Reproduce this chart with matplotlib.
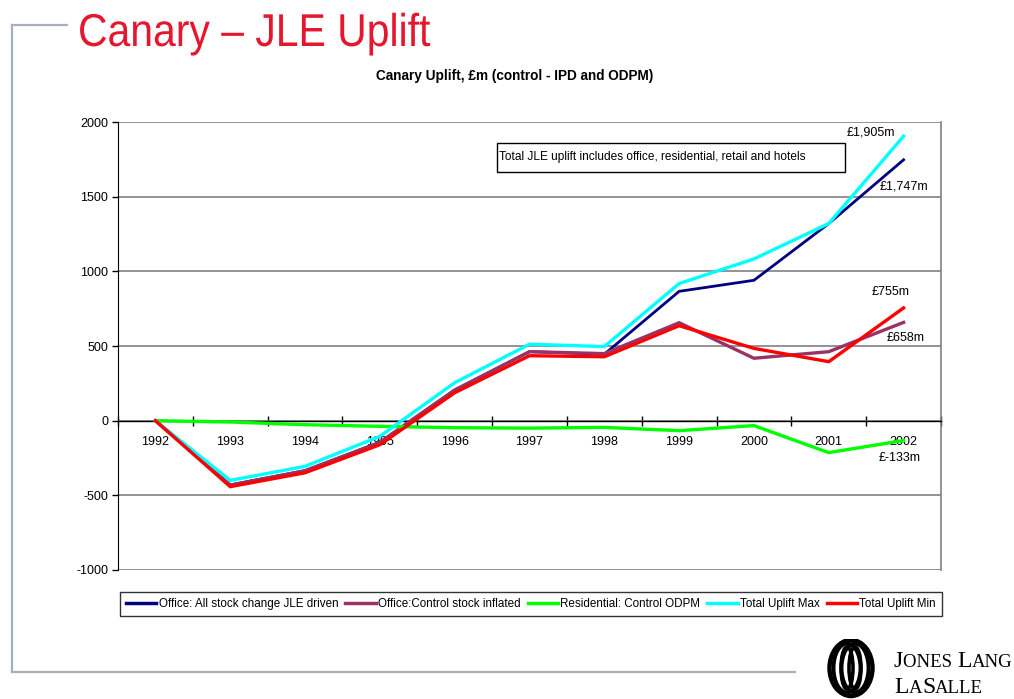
import numpy as np
import matplotlib
matplotlib.use("Agg")
from matplotlib import pyplot as plt
from matplotlib.lines import Line2D
from matplotlib.patches import Ellipse, Rectangle, PathPatch
from matplotlib.textpath import TextPath
from matplotlib.font_manager import FontProperties
import matplotlib.transforms as mtransforms

plt.rcParams["axes.unicode_minus"] = False
plt.rcParams["font.family"] = ["Liberation Sans", "DejaVu Sans"]

years = ["1992", "1993", "1994", "1995", "1996", "1997", "1998", "1999", "2000", "2001", "2002"]

office_jle = [0, -430, -335, -145, 205, 462, 445, 866, 940, 1320, 1747]
office_control = [0, -432, -335, -145, 205, 462, 449, 656, 418, 462, 658]
residential = [0, -9, -27, -38, -47, -50, -45, -67, -33, -214, -133]
total_max = [0, -400, -306, -105, 254, 512, 496, 918, 1083, 1320, 1905]
total_min = [0, -442, -349, -161, 187, 435, 428, 636, 484, 395, 755]

series = [
    ("Office: All stock change JLE driven", office_jle, "#000080", 2.0),
    ("Office:Control stock inflated", office_control, "#993366", 2.4),
    ("Residential: Control ODPM", residential, "#00ff00", 2.4),
    ("Total Uplift Max", total_max, "#00ffff", 2.4),
    ("Total Uplift Min", total_min, "#ff0000", 2.4),
]

end_labels = ["£1,905m", "£1,747m", "£755m", "£658m", "£-133m"]

W, H = 1014, 699
fig = plt.figure(figsize=(W / 100, H / 100), dpi=100)
fig.patch.set_facecolor("white")

def fx(px):
    return px / W

def fy(py):
    return 1 - py / H

# slide frame
frame = "#a6b0bd"
fig.add_artist(Line2D([fx(12), fx(67)], [fy(25), fy(25)], color=frame, lw=1.6))
fig.add_artist(Line2D([fx(12), fx(12)], [fy(25), fy(672)], color=frame, lw=1.6))
fig.add_artist(Line2D([fx(12), fx(795)], [fy(672), fy(672)], color=frame, lw=1.6))

# condensed slide heading, squeezed horizontally from a regular face
heading = TextPath((0, 0), "Canary – JLE Uplift", size=46,
                   prop=FontProperties(family="Liberation Sans"))
sx = 350 / heading.get_extents().width
tr = mtransforms.Affine2D().scale(sx / W, 1 / H).translate(fx(78), fy(46)) + fig.transFigure
fig.add_artist(PathPatch(heading, transform=tr, fc="#e4172f", ec="none"))

fig.text(fx(515), fy(76), "Canary Uplift, £m (control - IPD and ODPM)", fontsize=9.8,
         fontweight="bold", ha="center", va="center")

ax = fig.add_axes([fx(118), fy(570), fx(941 - 118), (570 - 122) / H])
x = np.arange(len(years))
for name, vals, col, lw in series:
    ax.plot(x, vals, color=col, lw=lw, label=name, solid_joinstyle="miter", zorder=3)

ax.set_xlim(-0.5, len(years) - 0.5)
ax.set_ylim(-1000, 2000)
ax.set_yticks(np.arange(-1000, 2001, 500))
ax.yaxis.grid(True, color="#808080", lw=1.2)
ax.set_axisbelow(True)
ax.tick_params(axis="y", direction="out", length=4, width=1, labelsize=9, pad=3)

# category axis sitting on zero
ax.spines["bottom"].set_position(("data", 0))
ax.spines["bottom"].set_color("#000000")
ax.spines["bottom"].set_linewidth(1.0)
ax.set_xticks(np.arange(-0.5, len(years), 1.0))
ax.set_xticklabels([])
ax.set_xticks(x, minor=True)
ax.set_xticklabels(years, minor=True, fontsize=9)
ax.tick_params(axis="x", which="major", direction="inout", length=7, width=1)
ax.tick_params(axis="x", which="minor", length=0, pad=11)
ax.spines["left"].set_color("#000000")
ax.spines["top"].set_visible(False)
ax.spines["right"].set_color("#808080")
ax.spines["right"].set_linewidth(1.2)

label_pos = [(9.56, 1930), (10.0, 1567), (9.83, 864), (10.03, 556), (9.95, -248)]
for txt, (lx, ly) in zip(end_labels, label_pos):
    ax.text(lx, ly, txt, fontsize=9, ha="center", va="center")

ax.text((499 - 118) / 823, 1 - (157 - 122) / 448,
        "Total JLE uplift includes office, residential, retail and hotels",
        transform=ax.transAxes, fontsize=8.6, ha="left", va="center")
ax.add_patch(Rectangle(((497 - 118) / 823, 1 - (172 - 122) / 448), (845 - 497) / 823, 29 / 448,
                       transform=ax.transAxes, fill=False, ec="#000000", lw=1.0, zorder=4))

leg = fig.legend(loc="center", bbox_to_anchor=(fx(531), fy(604)), ncol=5, frameon=True,
                 fancybox=False, edgecolor="#000000", fontsize=8.4, handlelength=2.6,
                 handletextpad=0.2, columnspacing=0.6, borderpad=0.5)
leg.get_frame().set_linewidth(1.0)
for h in leg.get_lines():
    h.set_linewidth(2.5)

# company mark: interlocking rings
lax = fig.add_axes([fx(822), fy(699), fx(60), 60 / H])
lax.set_xlim(0, 60)
lax.set_ylim(0, 60)
lax.axis("off")
lax.add_patch(Ellipse((29, 31), 43, 56, fill=False, ec="#000000", lw=3.2))
for dx in (-4, 4):
    lax.add_patch(Ellipse((29 + dx, 31), 27, 49, fill=False, ec="#000000", lw=2.8))
    lax.add_patch(Ellipse((29 + dx, 31), 12, 42, fill=False, ec="#000000", lw=2.6))

renderer = fig.canvas.get_renderer()

def small_caps(x0, y0, parts):
    xpos = x0
    for s, size in parts:
        t = fig.text(fx(xpos), fy(y0), s, fontsize=size, family="Liberation Serif", va="baseline")
        xpos += t.get_window_extent(renderer).width

small_caps(894, 667, [("J", 17), ("ONES ", 13.5), ("L", 17), ("ANG", 13.5)])
small_caps(894, 693, [("L", 17), ("A", 13.5), ("S", 17), ("ALLE", 13.5)])

fig.savefig("out.png", dpi=100, facecolor="white")
